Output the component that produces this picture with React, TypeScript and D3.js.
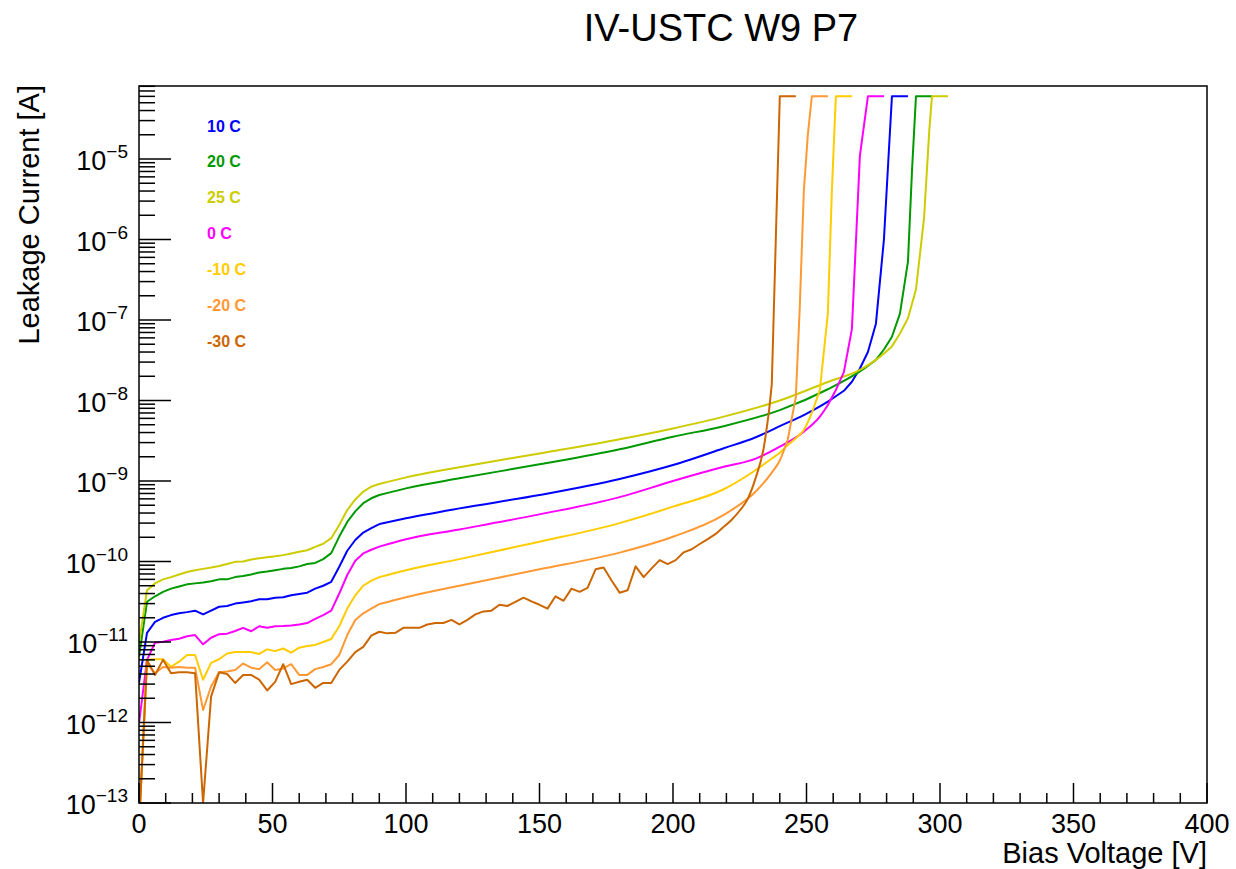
import React from "react";
import * as d3 from "d3";

// ---------- data ----------
const LOW_V = [0, 3, 6, 9, 12, 15, 18, 21, 24, 27, 30, 33, 36, 39, 42, 45, 48, 51, 54, 57, 60, 63, 66, 69, 72, 75, 78, 81, 84, 87];

const v10C = [...LOW_V, 90, 100, 120, 150, 180, 200, 219, 231, 240, 249, 258, 264, 267, 270, 273, 276, 279, 280.6, 282, 285, 288];
const i10C = [3.1e-12, 1.3e-11, 1.78e-11, 2.0e-11, 2.16e-11, 2.27e-11, 2.35e-11, 2.45e-11, 2.2e-11, 2.45e-11, 2.74e-11, 2.8e-11, 3.0e-11, 3.1e-11, 3.2e-11, 3.4e-11, 3.4e-11, 3.55e-11, 3.6e-11, 3.8e-11, 3.95e-11, 4.1e-11, 4.6e-11, 5.0e-11, 5.6e-11, 8.6e-11, 1.36e-10, 1.85e-10, 2.29e-10, 2.6e-10,
  2.92e-10, 3.44e-10, 4.57e-10, 6.7e-10, 1.06e-9, 1.58e-9, 2.55e-9, 3.5e-9, 4.8e-9, 6.6e-9, 9.7e-9, 1.32e-8, 1.71e-8, 2.5e-8, 4.0e-8, 9.0e-8, 1.0e-6, 9e-6, 6e-5, 6e-5, 6e-5];

const v20C = [...LOW_V, 90, 100, 120, 150, 180, 200, 219, 240, 258, 270, 276, 279, 282, 285, 288, 289.5, 291, 294, 297];
const i20C = [6.6e-12, 3.16e-11, 3.7e-11, 4.2e-11, 4.6e-11, 4.9e-11, 5.2e-11, 5.35e-11, 5.5e-11, 5.7e-11, 6.0e-11, 6.0e-11, 6.4e-11, 6.6e-11, 6.9e-11, 7.3e-11, 7.5e-11, 7.8e-11, 8.1e-11, 8.3e-11, 8.7e-11, 9.3e-11, 9.6e-11, 1.07e-10, 1.27e-10, 2.04e-10, 3.1e-10, 4.2e-10, 5.3e-10, 6.1e-10,
  6.7e-10, 8.1e-10, 1.08e-9, 1.61e-9, 2.48e-9, 3.55e-9, 4.8e-9, 7.6e-9, 1.38e-8, 2.3e-8, 3.2e-8, 4.3e-8, 6.2e-8, 1.2e-7, 5.3e-7, 7e-6, 6e-5, 6e-5, 6e-5];

const v25C = [...LOW_V, 90, 100, 120, 150, 180, 200, 219, 240, 258, 270, 276, 282, 285, 288, 291, 294, 296, 297, 300, 303];
const i25C = [9.6e-12, 4.4e-11, 5.35e-11, 6.0e-11, 6.4e-11, 6.9e-11, 7.4e-11, 7.8e-11, 8.1e-11, 8.4e-11, 8.8e-11, 9.3e-11, 9.9e-11, 1.0e-10, 1.06e-10, 1.1e-10, 1.13e-10, 1.16e-10, 1.2e-10, 1.26e-10, 1.32e-10, 1.38e-10, 1.52e-10, 1.66e-10, 1.95e-10, 2.84e-10, 4.36e-10, 5.9e-10, 7.4e-10, 8.5e-10,
  9.2e-10, 1.11e-9, 1.48e-9, 2.2e-9, 3.3e-9, 4.5e-9, 6.3e-9, 1.0e-8, 1.7e-8, 2.4e-8, 3.2e-8, 4.7e-8, 6.8e-8, 1.05e-7, 2.4e-7, 1.8e-6, 2.3e-5, 6e-5, 6e-5, 6e-5];

const v0C = [...LOW_V, 90, 100, 120, 150, 180, 200, 219, 231, 240, 249, 255, 258, 261, 264, 267, 270, 273, 276, 279];
const i0C = [9.8e-13, 6.0e-12, 9.8e-12, 1.01e-11, 1.06e-11, 1.1e-11, 1.18e-11, 1.22e-11, 9.35e-12, 1.13e-11, 1.25e-11, 1.27e-11, 1.37e-11, 1.5e-11, 1.36e-11, 1.57e-11, 1.5e-11, 1.57e-11, 1.58e-11, 1.6e-11, 1.65e-11, 1.72e-11, 1.94e-11, 2.16e-11, 2.45e-11, 4.0e-11, 6.8e-11, 1.02e-10, 1.26e-10, 1.4e-10,
  1.53e-10, 1.89e-10, 2.5e-10, 3.85e-10, 6.3e-10, 1.0e-9, 1.5e-9, 1.9e-9, 2.67e-9, 4.1e-9, 6.3e-9, 8.8e-9, 1.35e-8, 2.25e-8, 7.7e-8, 1.1e-5, 6e-5, 6e-5, 6e-5];

const vM10C = [...LOW_V, 90, 100, 120, 150, 180, 200, 219, 231, 237, 240, 243, 246, 249, 252, 255, 258, 259.5, 261, 264, 267];
const iM10C = [5e-14, 6.0e-12, 6.1e-12, 6.1e-12, 4.9e-12, 5.7e-12, 6.9e-12, 6.9e-12, 3.4e-12, 5.5e-12, 6.1e-12, 7.2e-12, 7.5e-12, 7.5e-12, 7.5e-12, 7.1e-12, 8.1e-12, 7.7e-12, 8.3e-12, 7.4e-12, 8.5e-12, 8.9e-12, 9.2e-12, 1.0e-11, 1.09e-11, 1.57e-11, 2.6e-11, 3.8e-11, 5.0e-11, 5.8e-11,
  6.4e-11, 7.8e-11, 1.07e-10, 1.76e-10, 3.0e-10, 4.8e-10, 7.9e-10, 1.37e-9, 1.9e-9, 2.25e-9, 2.8e-9, 3.4e-9, 4.3e-9, 7.0e-9, 1.35e-8, 1.2e-7, 4e-6, 6e-5, 6e-5, 6e-5];

const vM20C = [...LOW_V, 90, 100, 120, 150, 180, 200, 219, 231, 237, 240, 243, 246, 247.5, 249, 250.5, 252, 255, 258];
const iM20C = [5e-14, 5.4e-12, 4.1e-12, 4.9e-12, 4.8e-12, 4.9e-12, 4.8e-12, 4.8e-12, 1.43e-12, 2.8e-12, 4.2e-12, 4.3e-12, 4.5e-12, 5.4e-12, 4.8e-12, 4.6e-12, 5.6e-12, 4.5e-12, 4.7e-12, 5.3e-12, 3.9e-12, 3.9e-12, 4.6e-12, 4.9e-12, 5.3e-12, 6.9e-12, 1.22e-11, 1.88e-11, 2.27e-11, 2.6e-11,
  2.96e-11, 3.6e-11, 5.0e-11, 8.0e-11, 1.29e-10, 2.03e-10, 3.8e-10, 7.4e-10, 1.27e-9, 1.8e-9, 3.3e-9, 1.1e-8, 1.5e-7, 4e-6, 2e-5, 6e-5, 6e-5, 6e-5];

const vM30C = [...LOW_V, 90, 93, 96, 99, 102, 105, 108, 111, 114, 117, 120, 123, 126, 129, 132, 135, 138, 141, 144, 147, 150, 153, 156, 159, 162, 165, 168, 171, 174, 177, 180, 183, 186, 189, 192, 195, 198, 201, 204, 207, 210, 213, 216, 219, 222, 225, 228, 231, 234, 236, 237, 238.5, 240, 243, 246];
const iM30C = [5e-14, 6.0e-12, 3.9e-12, 6.0e-12, 4.1e-12, 4.2e-12, 4.2e-12, 4.1e-12, 1e-13, 2.1e-12, 4.2e-12, 4.0e-12, 3.1e-12, 3.9e-12, 3.9e-12, 3.4e-12, 2.5e-12, 3.2e-12, 5.3e-12, 3.0e-12, 3.2e-12, 3.4e-12, 2.7e-12, 3.1e-12, 3.1e-12, 4.5e-12, 5.7e-12, 7.5e-12, 8.7e-12, 1.2e-11,
  1.34e-11, 1.28e-11, 1.3e-11, 1.5e-11, 1.5e-11, 1.5e-11, 1.65e-11, 1.72e-11, 1.72e-11, 1.88e-11, 1.65e-11, 1.88e-11, 2.2e-11, 2.4e-11, 2.45e-11, 2.9e-11, 2.8e-11, 3.16e-11, 3.55e-11, 3.2e-11, 2.9e-11, 2.6e-11, 3.7e-11, 3.25e-11, 4.6e-11, 4.2e-11, 4.7e-11, 8.0e-11, 8.4e-11, 5.8e-11, 4.1e-11, 4.4e-11, 8.7e-11, 6.4e-11, 8.2e-11, 1.04e-10, 9.3e-11, 1.04e-10, 1.3e-10, 1.42e-10, 1.65e-10, 1.9e-10, 2.2e-10, 2.7e-10, 3.3e-10, 4.3e-10, 6.0e-10, 1.1e-9, 2.6e-9, 7.6e-9, 1.6e-8, 1e-6, 6e-5, 6e-5, 6e-5];

const seriesNames = ["10 C", "20 C", "25 C", "0 C", "-10 C", "-20 C", "-30 C"];
const seriesColors = ["#0000ff", "#009900", "#cccc00", "#ff00ff", "#ffcc00", "#ff9933", "#cc6600"];
const seriesV = [v10C, v20C, v25C, v0C, vM10C, vM20C, vM30C];
const seriesI = [i10C, i20C, i25C, i0C, iM10C, iM20C, iM30C];
// voltage range of the gently curving part of each curve
const smoothFrom = [90, 90, 90, 90, 90, 90, 219];
const smoothTo = [264, 276, 282, 258, 252, 243, 236];

const xTicksMajor = [0, 50, 100, 150, 200, 250, 300, 350, 400];
const yDecades = [-13, -12, -11, -10, -9, -8, -7, -6, -5];

const TITLE = "IV-USTC W9 P7";
const X_TITLE = "Bias Voltage [V]";
const Y_TITLE = "Leakage Current [A]";

// ---------- layout ----------
const W = 1236, H = 869;
const L = 139, R = 1207, T = 86, B = 803;
const Y_MIN = 1e-13, Y_MAX = 8.07e-5;
const FONT = "'Liberation Sans', Arial, Helvetica, sans-serif";

export default function App() {
  const x = d3.scaleLinear().domain([0, 400]).range([L, R]);
  const y = d3.scaleLog().domain([Y_MIN, Y_MAX]).range([B, T]);
  const lineLin = d3.line<[number, number]>().x(d => x(d[0])).y(d => y(d[1]));
  const lineSmooth = d3.line<[number, number]>().x(d => x(d[0])).y(d => y(d[1])).curve(d3.curveMonotoneX);

  const xMinor = d3.range(0, 401, 10).filter(v => v % 50 !== 0);
  const yMinor: number[] = [];
  for (let e = -13; e <= -5; e++) {
    for (let m = 2; m <= 9; m++) {
      const v = m * Math.pow(10, e);
      if (v <= Y_MAX) yMinor.push(v);
    }
  }

  return (
    <svg width={W} height={H} style={{ position: "absolute", left: 0, top: 0, background: "#fff" }} fontFamily={FONT}>
      <defs>
        <clipPath id="plotclip">
          <rect x={L} y={T} width={R - L} height={B - T} />
        </clipPath>
      </defs>
      <rect x={0} y={0} width={W} height={H} fill="#fff" />

      {/* curves */}
      <g clipPath="url(#plotclip)">
        {seriesV.map((vs, k) => {
          const pts: [number, number][] = vs.map((v, j) => [v, seriesI[k][j]]);
          const p1 = pts.filter(p => p[0] <= smoothFrom[k]);
          const p2 = pts.filter(p => p[0] >= smoothFrom[k] && p[0] <= smoothTo[k]);
          const p3 = pts.filter(p => p[0] >= smoothTo[k]);
          const d = (lineLin(p1) || "") + " " + (lineSmooth(p2) || "") + " " + (lineLin(p3) || "");
          return (
            <path key={k} d={d} fill="none" stroke={seriesColors[k]} strokeWidth={2} strokeLinejoin="round" />
          );
        })}
      </g>

      {/* frame */}
      <rect x={L} y={T} width={R - L} height={B - T} fill="none" stroke="#000" strokeWidth={1.5} />

      {/* x ticks */}
      {xTicksMajor.map(v => (
        <g key={"xm" + v}>
          <line x1={x(v)} x2={x(v)} y1={B} y2={B - 20} stroke="#000" strokeWidth={1.5} />
          <text x={x(v)} y={833} fontSize={27} textAnchor="middle" fill="#000">{v}</text>
        </g>
      ))}
      {xMinor.map(v => (
        <line key={"xn" + v} x1={x(v)} x2={x(v)} y1={B} y2={B - 10} stroke="#000" strokeWidth={1.5} />
      ))}

      {/* y ticks */}
      {yDecades.map(e => {
        const yy = y(Math.pow(10, e));
        return (
          <g key={"yd" + e}>
            <line x1={L} x2={L + 32} y1={yy} y2={yy} stroke="#000" strokeWidth={1.5} />
            <text x={128} y={yy + 11} fontSize={27} textAnchor="end" fill="#000">
              <tspan>10</tspan>
              <tspan dy={-12} fontSize={19}>{"\u2212" + Math.abs(e)}</tspan>
            </text>
          </g>
        );
      })}
      {yMinor.map((v, i) => (
        <line key={"yn" + i} x1={L} x2={L + 16} y1={y(v)} y2={y(v)} stroke="#000" strokeWidth={1.5} />
      ))}

      {/* titles */}
      <text x={721} y={41} fontSize={38} textAnchor="middle" fill="#000">{TITLE}</text>
      <text x={R} y={863} fontSize={29} textAnchor="end" fill="#000">{X_TITLE}</text>
      <text transform={`translate(39,85) rotate(-90)`} fontSize={29} textAnchor="end" fill="#000">{Y_TITLE}</text>

      {/* legend */}
      {seriesNames.map((n, k) => (
        <text key={n} x={207} y={131.5 + k * 35.9} fontSize={16} fontWeight="bold" fill={seriesColors[k]}>{n}</text>
      ))}
    </svg>
  );
}
